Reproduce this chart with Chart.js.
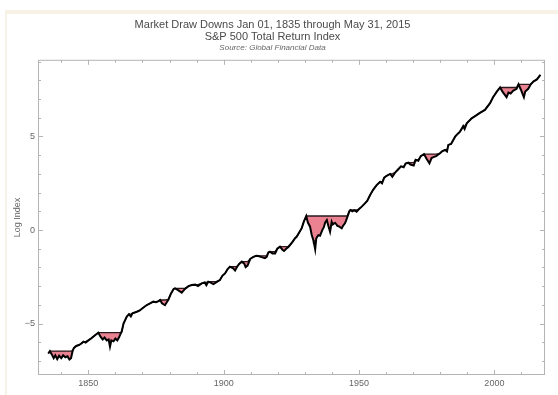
<!DOCTYPE html>
<html lang="en">
<head>
    <meta charset="UTF-8">
    <title>Market Draw Downs</title>
    <script src="https://cdn.jsdelivr.net/npm/chart.js"></script>
    <style>
        html, body {
            margin: 0;
            padding: 0;
            background: #fff;
        }

        .wrap {
            position: relative;
            width: 558px;
            height: 395px;
        }

        .band-top {
            position: absolute;
            left: 5px;
            top: 10px;
            width: 553px;
            height: 4px;
            background: #f8f1e6;
        }

        .band-left {
            position: absolute;
            left: 5px;
            top: 10px;
            width: 2px;
            height: 385px;
            background: #f8f1e6;
        }

        canvas {
            position: absolute;
            left: 0;
            top: 0;
        }
    </style>
</head>
<body>
    <div class="wrap">
        <div class="band-top"></div>
        <div class="band-left"></div>
        <canvas id="ddChart" width="558" height="395"></canvas>
    </div>

    <script>
        // series (year, log of total return index)
        const years = [
            1835.2, 1835.8, 1836.5, 1837.2, 1837.8, 1838.5, 1839.2, 1840.0, 1840.7, 1841.5,
            1842.3, 1843.0, 1843.6, 1844.2, 1844.7, 1845.5, 1846.5, 1847.3, 1848.2, 1849.0,
            1850.0, 1851.0, 1851.8, 1852.7, 1853.7, 1854.5, 1855.3, 1856.0, 1856.8, 1857.5,
            1858.0, 1858.5, 1859.3, 1860.0, 1860.7, 1861.3, 1861.9, 1862.3, 1863.0, 1864.2,
            1865.0, 1865.7, 1866.3, 1867.9, 1869.0, 1870.0, 1871.6, 1872.8, 1874.0, 1875.0,
            1876.0, 1876.5, 1877.2, 1878.3, 1879.6, 1880.5, 1881.5, 1882.0, 1883.0, 1884.5,
            1885.7, 1887.0, 1888.2, 1889.5, 1890.5, 1891.9, 1893.0, 1893.6, 1894.3, 1895.0,
            1896.2, 1897.2, 1898.6, 1899.5, 1900.5, 1901.4, 1902.3, 1903.5, 1904.2, 1905.0,
            1905.8, 1906.7, 1907.6, 1908.1, 1908.8, 1909.8, 1911.0, 1912.0, 1912.8, 1914.0,
            1915.2, 1915.9, 1916.5, 1917.1, 1918.0, 1919.0, 1919.8, 1920.8, 1921.7, 1922.3,
            1923.0, 1923.8, 1924.5, 1925.5, 1926.3, 1927.0, 1928.0, 1928.8, 1929.6, 1930.5,
            1931.1, 1931.9, 1932.5, 1933.1, 1933.3, 1933.5, 1933.8, 1934.2, 1934.6, 1935.0,
            1935.6, 1936.2, 1936.6, 1937.0, 1937.5, 1938.1, 1938.7, 1939.3, 1939.9, 1940.3,
            1940.8, 1941.2, 1941.8, 1942.0, 1942.5, 1943.0, 1943.6, 1944.2, 1944.8, 1945.2,
            1945.7, 1946.4, 1946.8, 1947.5, 1948.3, 1949.1, 1950.0, 1951.0, 1952.0, 1953.0,
            1954.1, 1955.2, 1956.5, 1957.8, 1958.5, 1959.3, 1960.2, 1961.5, 1962.3, 1963.5,
            1964.5, 1965.5, 1966.5, 1967.2, 1968.2, 1969.0, 1970.2, 1970.9, 1971.9, 1972.8,
            1974.0, 1975.0, 1976.0, 1976.8, 1977.5, 1978.5, 1979.9, 1980.8, 1981.8, 1982.5,
            1983.0, 1984.0, 1985.5, 1986.5, 1987.3, 1988.5, 1989.0, 1989.8, 1991.6, 1993.0,
            1994.5, 1996.5, 1998.4, 1999.5, 2000.9, 2002.1, 2003.0, 2004.5, 2005.2, 2006.0,
            2007.0, 2008.2, 2008.9, 2009.8, 2010.9, 2011.4, 2012.5, 2013.5, 2014.5, 2015.7,
            2017.0
        ];
        const logIndex = [
            -6.60, -6.47, -6.65, -6.85, -6.70, -6.90, -6.72, -6.85, -6.70, -6.80,
            -6.75, -6.92, -6.85, -6.45, -6.30, -6.20, -6.15, -6.08, -5.97, -6.02,
            -5.90, -5.80, -5.70, -5.60, -5.49, -5.70, -5.85, -5.75, -5.90, -5.85,
            -6.24, -5.90, -5.95, -5.80, -5.90, -5.75, -5.55, -5.44, -5.00, -4.63,
            -4.50, -4.62, -4.45, -4.37, -4.30, -4.18, -4.01, -3.92, -3.83, -3.86,
            -3.80, -3.74, -3.92, -4.02, -3.71, -3.40, -3.15, -3.12, -3.20, -3.35,
            -3.15, -3.00, -2.94, -2.92, -3.00, -2.85, -2.80, -2.95, -2.76, -2.80,
            -2.89, -2.80, -2.67, -2.45, -2.32, -2.10, -1.96, -2.05, -2.16, -1.95,
            -1.80, -1.69, -1.80, -1.98, -1.90, -1.55, -1.43, -1.38, -1.39, -1.45,
            -1.50, -1.43, -1.20, -1.16, -1.25, -1.25, -1.00, -0.89, -1.05, -1.12,
            -1.02, -0.92, -0.80, -0.62, -0.45, -0.35, -0.10, 0.09, 0.45, 0.75,
            0.40, 0.18, -0.25, -0.53, -0.70, -0.80, -1.03, -0.45, -0.35, -0.27,
            -0.30, -0.09, 0.05, 0.15, 0.40, 0.53, 0.20, -0.09, 0.44, 0.30,
            0.35, 0.38, 0.27, 0.22, 0.20, 0.15, 0.09, 0.25, 0.36, 0.50,
            0.70, 1.00, 1.07, 1.00, 1.05, 0.98, 1.12, 1.25, 1.40, 1.55,
            1.87, 2.15, 2.40, 2.58, 2.50, 2.80, 2.90, 3.00, 2.85, 3.10,
            3.25, 3.40, 3.35, 3.55, 3.60, 3.50, 3.45, 3.75, 3.70, 3.95,
            4.06, 3.80, 3.57, 3.85, 3.90, 3.95, 4.10, 4.22, 4.28, 4.20,
            4.55, 4.60, 4.99, 5.15, 5.26, 5.55, 5.40, 5.70, 5.97, 6.10,
            6.25, 6.42, 6.78, 7.10, 7.40, 7.62, 7.40, 7.10, 7.35, 7.30,
            7.45, 7.55, 7.79, 7.50, 7.10, 7.40, 7.55, 7.80, 7.95, 8.05,
            8.29
        ];

        // axis ticks
        const xLabelTicks = [1850, 1900, 1950, 2000];
        const xMinorTicks = [1840, 1850, 1860, 1870, 1880, 1890, 1900, 1910, 1920, 1930, 1940, 1950, 1960, 1970, 1980, 1990, 2000, 2010];
        const yLabelTicks = [-5, 0, 5];
        const yMinorTicks = [-7, -6, -5, -4, -3, -2, -1, 0, 1, 2, 3, 4, 5, 6, 7, 8, 9];

        // running peak, the drawdown is the gap below it
        const peak = [];
        let best = -Infinity;
        logIndex.forEach(v => {
            best = Math.max(best, v);
            peak.push(best);
        });

        const seriesPts = years.map((x, i) => ({ x: x, y: logIndex[i] }));
        const peakPts = years.map((x, i) => ({ x: x, y: peak[i] }));

        const frameColor = '#b4b4b4';

        // Mathematica style frame, ticks pointing inward on all four sides
        const frameTicks = {
            id: 'frameTicks',
            afterDraw(chart) {
                const ctx = chart.ctx;
                const a = chart.chartArea;
                const xs = chart.scales.x;
                const ys = chart.scales.y;
                ctx.save();
                ctx.strokeStyle = frameColor;
                ctx.lineWidth = 1;
                ctx.strokeRect(a.left + 0.5, a.top + 0.5, a.right - a.left - 1, a.bottom - a.top - 1);
                ctx.beginPath();
                xMinorTicks.forEach(t => {
                    const px = Math.round(xs.getPixelForValue(t)) + 0.5;
                    const len = xLabelTicks.includes(t) ? 5 : 3;
                    ctx.moveTo(px, a.bottom);
                    ctx.lineTo(px, a.bottom - len);
                    ctx.moveTo(px, a.top);
                    ctx.lineTo(px, a.top + len);
                });
                yMinorTicks.forEach(t => {
                    const py = Math.round(ys.getPixelForValue(t)) + 0.5;
                    const len = yLabelTicks.includes(t) ? 5 : 3;
                    ctx.moveTo(a.left, py);
                    ctx.lineTo(a.left + len, py);
                    ctx.moveTo(a.right, py);
                    ctx.lineTo(a.right - len, py);
                });
                ctx.stroke();
                ctx.restore();
            }
        };

        const ctx = document.getElementById('ddChart').getContext('2d');
        new Chart(ctx, {
            type: 'line',
            data: {
                datasets: [
                    {
                        label: 'Peak',
                        data: peakPts,
                        borderColor: '#2a1a1c',
                        borderWidth: 1.3,
                        pointRadius: 0,
                        fill: false,
                        order: 1
                    },
                    {
                        label: 'Log Index',
                        data: seriesPts,
                        borderColor: '#000',
                        borderWidth: 2,
                        pointRadius: 0,
                        backgroundColor: 'rgb(234, 130, 146)',
                        fill: { target: 0 },
                        order: 0
                    }
                ]
            },
            options: {
                responsive: false,
                animation: false,
                layout: {
                    padding: { left: 0, right: 13, top: 0, bottom: 0 }
                },
                plugins: {
                    legend: { display: false },
                    tooltip: { enabled: false },
                    filler: { drawTime: 'beforeDatasetsDraw' },
                    title: {
                        display: true,
                        text: ['Market Draw Downs Jan 01, 1835 through May 31, 2015', 'S&P 500 Total Return Index'],
                        color: '#4a4a4a',
                        font: { family: 'Liberation Sans, Arial, sans-serif', size: 11, weight: 'normal', lineHeight: 1.1 },
                        padding: { top: 19, bottom: 0 }
                    },
                    subtitle: {
                        display: true,
                        text: 'Source: Global Financial Data',
                        color: '#666',
                        font: { family: 'Liberation Sans, Arial, sans-serif', size: 8, style: 'italic', lineHeight: 1.2 },
                        padding: { top: 0, bottom: 7 }
                    }
                },
                scales: {
                    x: {
                        type: 'linear',
                        min: 1831.4,
                        max: 2018.7,
                        grid: { display: false, drawTicks: false },
                        border: { display: false },
                        afterBuildTicks: scale => {
                            scale.ticks = xLabelTicks.map(v => ({ value: v }));
                        },
                        afterFit: scale => {
                            scale.height = 20;
                        },
                        ticks: {
                            padding: 3,
                            maxRotation: 0,
                            color: '#666',
                            font: { family: 'Liberation Sans, Arial, sans-serif', size: 9 },
                            callback: v => String(v)
                        }
                    },
                    y: {
                        type: 'linear',
                        min: -7.75,
                        max: 9.1,
                        grid: { display: false, drawTicks: false },
                        border: { display: false },
                        afterBuildTicks: scale => {
                            scale.ticks = yLabelTicks.map(v => ({ value: v }));
                        },
                        afterFit: scale => {
                            scale.width = 38;
                        },
                        title: {
                            display: true,
                            text: 'Log Index',
                            color: '#666',
                            font: { family: 'Liberation Sans, Arial, sans-serif', size: 9 },
                            padding: { top: 12, bottom: 0 }
                        },
                        ticks: {
                            padding: 3,
                            color: '#666',
                            font: { family: 'Liberation Sans, Arial, sans-serif', size: 9 },
                            callback: v => (v < 0 ? '\u2212' + Math.abs(v) : String(v))
                        }
                    }
                }
            },
            plugins: [frameTicks]
        });
    </script>
</body>
</html>
